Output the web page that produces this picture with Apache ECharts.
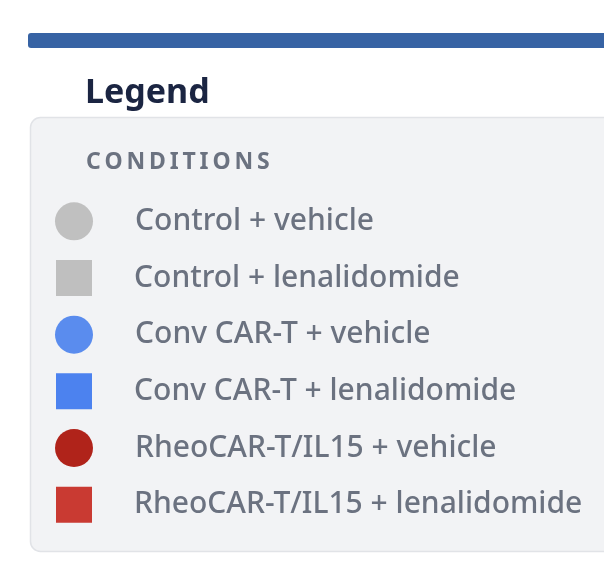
<!DOCTYPE html>
<html>
<head>
<meta charset="utf-8">
<script src="https://cdn.jsdelivr.net/npm/echarts@6/dist/echarts.min.js"></script>
<style>
  html, body { margin: 0; padding: 0; background: #ffffff; }
  #main { width: 604px; height: 574px; }
</style>
</head>
<body>
<div id="main"></div>
<script>
// legend entries (top to bottom)
var conditions = [
    'Control + vehicle',
    'Control + lenalidomide',
    'Conv CAR-T + vehicle',
    'Conv CAR-T + lenalidomide',
    'RheoCAR-T/IL15 + vehicle',
    'RheoCAR-T/IL15 + lenalidomide'
];
var shapes = ['circle', 'rect', 'circle', 'rect', 'circle', 'rect'];
var colors = ['#c0c0c0', '#bfbfbf', '#5a8cee', '#4c82ef', '#b0231a', '#c93a32'];
var titleText = 'Legend';
var groupText = 'CONDITIONS';

function getChart() {
    var myChart = echarts.init(document.getElementById('main'));
    window.onresize = myChart.resize;

    var points = conditions.map(function (name, i) {
        return {
            value: [0, name],
            symbol: shapes[i],
            symbolSize: shapes[i] == 'circle' ? 38 : 36,
            itemStyle: { color: colors[i], opacity: 1, borderRadius: 2 }
        };
    });

    var option = {
        backgroundColor: '#ffffff',
        animation: false,
        title: [
            {
                text: titleText,
                left: 80, top: 71,
                textStyle: { fontFamily: 'Noto Sans', fontSize: 34, fontWeight: 'bold', color: '#1b2542' }
            },
            {
                // letter spaced caps
                text: groupText.split('').join('\u2009'),
                left: 81, top: 146,
                textStyle: { fontFamily: 'Noto Sans', fontSize: 23, fontWeight: 'bold', color: '#6b7280' }
            }
        ],
        graphic: [
            {
                type: 'rect', z: -10,
                shape: { x: 28, y: 33, width: 600, height: 15, r: [3, 0, 0, 3] },
                style: { fill: '#3763a4' }
            },
            {
                type: 'rect', z: -10,
                shape: { x: 30.5, y: 117.5, width: 600, height: 434, r: 10 },
                style: { fill: '#f2f3f5', stroke: '#e1e3e7', lineWidth: 1.5 }
            }
        ],
        grid: { left: 74, right: 30, top: 193, height: 340 },
        xAxis: { type: 'value', min: 0, max: 1, show: false },
        yAxis: { type: 'category', data: conditions, inverse: true, show: false },
        series: [
            {
                type: 'scatter',
                data: points,
                label: {
                    show: true,
                    position: 'right',
                    distance: 42,
                    formatter: function (p) { return p.value[1]; },
                    fontFamily: 'Noto Sans',
                    fontSize: 30,
                    fontWeight: 500,
                    color: '#6b7280',
                    opacity: 1
                }
            }
        ]
    };

    myChart.setOption(option, true);
}
getChart();
</script>
</body>
</html>
